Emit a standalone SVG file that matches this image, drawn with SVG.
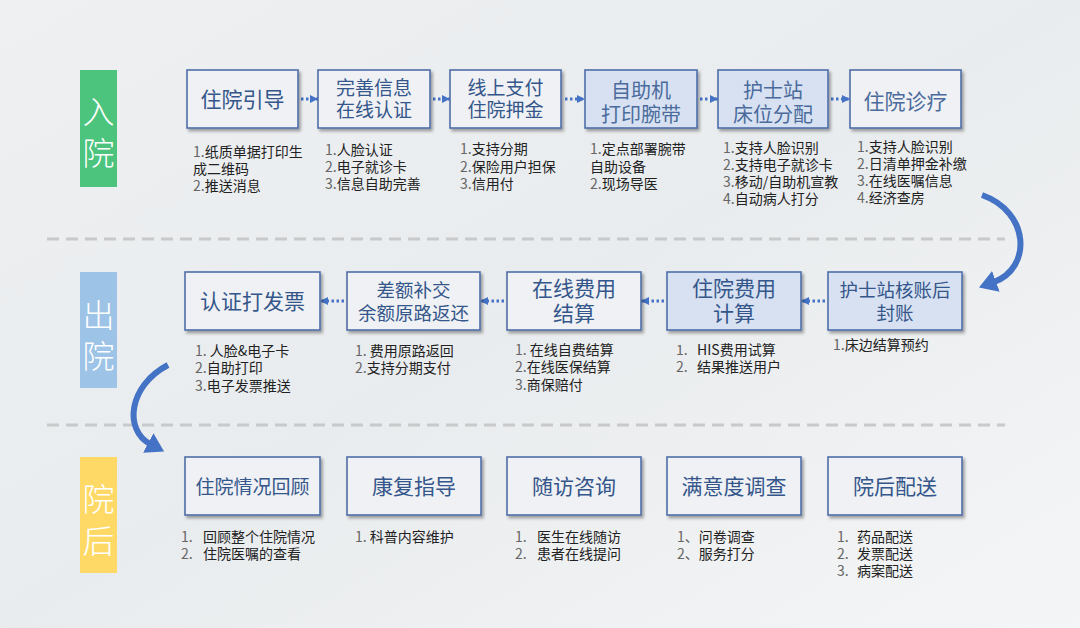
<svg xmlns="http://www.w3.org/2000/svg" width="1080" height="628" viewBox="0 0 1080 628">
<defs>
<linearGradient id="bg" x1="0" y1="0" x2="1" y2="1">
<stop offset="0" stop-color="#eef0f2"/>
<stop offset="0.5" stop-color="#e9ecee"/>
<stop offset="1" stop-color="#f4f5f6"/>
</linearGradient>
<filter id="sh" x="-10%" y="-10%" width="125%" height="130%">
<feDropShadow dx="2" dy="2.5" stdDeviation="1.8" flood-color="#000" flood-opacity="0.35"/>
</filter>
<marker id="dh" markerUnits="userSpaceOnUse" markerWidth="9" markerHeight="10" refX="8" refY="5" orient="auto">
<path d="M0,1 L8,5 L0,9 z" fill="#4472c4"/>
</marker>
<marker id="bh" markerUnits="userSpaceOnUse" markerWidth="20" markerHeight="22" refX="2" refY="11" orient="auto">
<path d="M0,0 L18,11 L0,22 z" fill="#4472c4"/>
</marker>
<style>
.box{fill:#eff1f4;stroke:#4f6fa9;stroke-width:1.6;filter:url(#sh)}
.boxb{fill:#d7e1f1;stroke:#4f6fa9;stroke-width:1.6;filter:url(#sh)}
.t{font-family:"Noto Sans CJK SC","Noto Sans",sans-serif;fill:#34568b;text-anchor:middle}
.tl{font-family:"Noto Sans CJK SC","Noto Sans",sans-serif;fill:#4a6b9c;text-anchor:middle}
.s{font-family:"Noto Sans CJK SC","Noto Sans",sans-serif;font-size:14px;fill:#222}
.n{fill:#666}
.lab{font-family:"Noto Sans CJK SC","Noto Sans",sans-serif;font-size:32px;font-weight:300;fill:#fff;text-anchor:middle}
.dot{stroke:#4472c4;stroke-width:3;stroke-dasharray:2.5 2.5;fill:none}
.big{stroke:#4472c4;stroke-width:6;fill:none}
.sep{stroke:#c8c9ca;stroke-width:3;stroke-dasharray:12 7}
</style>
</defs>
<rect width="1080" height="628" fill="url(#bg)"/>

<line class="sep" x1="47" y1="239" x2="1005" y2="239"/>
<line class="sep" x1="47" y1="425" x2="1005" y2="425"/>

<g id="phase-ruyuan">
<rect x="80" y="70" width="37" height="117" fill="#4cc47e"/>
<text class="lab"><tspan x="98.5" y="124">入</tspan><tspan x="98.5" y="165">院</tspan></text>
</g>
<g id="phase-chuyuan">
<rect x="80" y="272" width="37" height="116" fill="#9dc3e6"/>
<text class="lab"><tspan x="98.5" y="327">出</tspan><tspan x="98.5" y="368">院</tspan></text>
</g>
<g id="phase-yuanhou">
<rect x="80" y="457" width="37" height="116" fill="#ffd966"/>
<text class="lab"><tspan x="98.5" y="511">院</tspan><tspan x="98.5" y="553">后</tspan></text>
</g>

<g id="connectors">
<line class="dot" x1="301" y1="99" x2="318" y2="99" marker-end="url(#dh)"/>
<line class="dot" x1="433" y1="99" x2="450" y2="99" marker-end="url(#dh)"/>
<line class="dot" x1="565" y1="99" x2="585" y2="99" marker-end="url(#dh)"/>
<line class="dot" x1="700" y1="99" x2="718" y2="99" marker-end="url(#dh)"/>
<line class="dot" x1="831" y1="99" x2="850" y2="99" marker-end="url(#dh)"/>
<line class="dot" x1="825" y1="301" x2="801" y2="301" marker-end="url(#dh)"/>
<line class="dot" x1="664" y1="301" x2="641" y2="301" marker-end="url(#dh)"/>
<line class="dot" x1="504" y1="301" x2="480" y2="301" marker-end="url(#dh)"/>
<line class="dot" x1="344" y1="301" x2="320" y2="301" marker-end="url(#dh)"/>
<path class="big" d="M982 195 C1030 212 1032 268 994 282" marker-end="url(#bh)"/>
<path class="big" d="M168 365 C128 386 124 430 150 444" marker-end="url(#bh)"/>
</g>

<!-- Row 1 -->
<g id="n-zhuyuanyindao">
<rect class="box" x="187" y="70" width="111" height="58"/>
<text class="t" x="242.5" y="107" font-size="21">住院引导</text>
<text class="s"><tspan x="193" y="157"><tspan class="n">1.</tspan>纸质单据打印生</tspan><tspan x="193" y="174">成二维码</tspan><tspan x="193" y="191"><tspan class="n">2.</tspan>推送消息</tspan></text>
</g>
<g id="n-wanshanxinxi">
<rect class="box" x="318" y="70" width="112" height="58"/>
<text class="t" font-size="19"><tspan x="374" y="95">完善信息</tspan><tspan x="374" y="117">在线认证</tspan></text>
<text class="s"><tspan x="325" y="155"><tspan class="n">1.</tspan>人脸认证</tspan><tspan x="325" y="172"><tspan class="n">2.</tspan>电子就诊卡</tspan><tspan x="325" y="189"><tspan class="n">3.</tspan>信息自助完善</tspan></text>
</g>
<g id="n-xianshangzhifu">
<rect class="box" x="450" y="70" width="111" height="58"/>
<text class="t" font-size="19"><tspan x="505.5" y="95">线上支付</tspan><tspan x="505.5" y="117">住院押金</tspan></text>
<text class="s"><tspan x="460" y="154"><tspan class="n">1.</tspan>支持分期</tspan><tspan x="460" y="172"><tspan class="n">2.</tspan>保险用户担保</tspan><tspan x="460" y="189"><tspan class="n">3.</tspan>信用付</tspan></text>
</g>
<g id="n-zizhuji">
<rect class="boxb" x="585" y="70" width="112" height="58"/>
<text class="tl" font-size="20"><tspan x="641" y="98">自助机</tspan><tspan x="641" y="122">打印腕带</tspan></text>
<text class="s"><tspan x="590" y="154"><tspan class="n">1.</tspan>定点部署腕带</tspan><tspan x="590" y="172">自助设备</tspan><tspan x="590" y="189"><tspan class="n">2.</tspan>现场导医</tspan></text>
</g>
<g id="n-hushizhan">
<rect class="boxb" x="718" y="70" width="110" height="58"/>
<text class="tl" font-size="20"><tspan x="773" y="98">护士站</tspan><tspan x="773" y="122">床位分配</tspan></text>
<text class="s"><tspan x="723" y="153"><tspan class="n">1.</tspan>支持人脸识别</tspan><tspan x="723" y="170"><tspan class="n">2.</tspan>支持电子就诊卡</tspan><tspan x="723" y="187"><tspan class="n">3.</tspan>移动/自助机宣教</tspan><tspan x="723" y="204"><tspan class="n">4.</tspan>自动病人打分</tspan></text>
</g>
<g id="n-zhuyuanzhenliao">
<rect class="box" x="850" y="70" width="111" height="58"/>
<text class="tl" x="905.5" y="109" font-size="21">住院诊疗</text>
<text class="s"><tspan x="857" y="152"><tspan class="n">1.</tspan>支持人脸识别</tspan><tspan x="857" y="169"><tspan class="n">2.</tspan>日清单押金补缴</tspan><tspan x="857" y="186"><tspan class="n">3.</tspan>在线医嘱信息</tspan><tspan x="857" y="203"><tspan class="n">4.</tspan>经济查房</tspan></text>
</g>

<!-- Row 2 -->
<g id="n-hushizhanhezhang">
<rect class="boxb" x="828" y="272" width="134" height="58"/>
<text class="t" font-size="18.5"><tspan x="895" y="297">护士站核账后</tspan><tspan x="895" y="320">封账</tspan></text>
<text class="s" x="833" y="350"><tspan class="n">1.</tspan>床边结算预约</text>
</g>
<g id="n-zhuyuanfeiyong">
<rect class="boxb" x="667" y="272" width="134" height="58"/>
<text class="t" font-size="21"><tspan x="734" y="296">住院费用</tspan><tspan x="734" y="321">计算</tspan></text>
<text class="s"><tspan class="n" x="676" y="355">1.</tspan><tspan x="697" y="355">HIS费用试算</tspan><tspan class="n" x="676" y="372">2.</tspan><tspan x="697" y="372">结果推送用户</tspan></text>
</g>
<g id="n-zaixianfeiyong">
<rect class="box" x="507" y="272" width="134" height="58"/>
<text class="t" font-size="21"><tspan x="574" y="296">在线费用</tspan><tspan x="574" y="321">结算</tspan></text>
<text class="s"><tspan x="515" y="355"><tspan class="n">1.</tspan> 在线自费结算</tspan><tspan x="515" y="372"><tspan class="n">2.</tspan>在线医保结算</tspan><tspan x="515" y="390"><tspan class="n">3.</tspan>商保赔付</tspan></text>
</g>
<g id="n-chaebujiao">
<rect class="box" x="347" y="272" width="133" height="58"/>
<text class="t" font-size="18.5"><tspan x="413.5" y="297">差额补交</tspan><tspan x="413.5" y="320">余额原路返还</tspan></text>
<text class="s"><tspan x="355" y="356"><tspan class="n">1.</tspan> 费用原路返回</tspan><tspan x="355" y="373"><tspan class="n">2.</tspan>支持分期支付</tspan></text>
</g>
<g id="n-renzhengfapiao">
<rect class="box" x="185" y="272" width="135" height="58"/>
<text class="t" x="252.5" y="309" font-size="21">认证打发票</text>
<text class="s"><tspan x="195" y="356"><tspan class="n">1.</tspan> 人脸&amp;电子卡</tspan><tspan x="195" y="373"><tspan class="n">2.</tspan>自助打印</tspan><tspan x="195" y="391"><tspan class="n">3.</tspan>电子发票推送</tspan></text>
</g>

<!-- Row 3 -->
<g id="n-huigu">
<rect class="box" x="185" y="457" width="135" height="58"/>
<text class="t" x="252.5" y="494" font-size="19">住院情况回顾</text>
<text class="s"><tspan class="n" x="181" y="542">1.</tspan><tspan x="203" y="542">回顾整个住院情况</tspan><tspan class="n" x="181" y="559">2.</tspan><tspan x="203" y="559">住院医嘱的查看</tspan></text>
</g>
<g id="n-kangfu">
<rect class="box" x="347" y="457" width="134" height="58"/>
<text class="t" x="414" y="494" font-size="21">康复指导</text>
<text class="s" x="355" y="542"><tspan class="n">1.</tspan> 科普内容维护</text>
</g>
<g id="n-suifang">
<rect class="box" x="507" y="457" width="134" height="58"/>
<text class="t" x="574" y="494" font-size="21">随访咨询</text>
<text class="s"><tspan class="n" x="515" y="542">1.</tspan><tspan x="537" y="542">医生在线随访</tspan><tspan class="n" x="515" y="559">2.</tspan><tspan x="537" y="559">患者在线提问</tspan></text>
</g>
<g id="n-manyidu">
<rect class="box" x="667" y="457" width="134" height="58"/>
<text class="t" x="734" y="494" font-size="21">满意度调查</text>
<text class="s"><tspan x="677" y="542"><tspan class="n">1、</tspan>问卷调查</tspan><tspan x="677" y="559"><tspan class="n">2、</tspan>服务打分</tspan></text>
</g>
<g id="n-peisong">
<rect class="box" x="828" y="457" width="134" height="58"/>
<text class="t" x="895" y="494" font-size="21">院后配送</text>
<text class="s"><tspan class="n" x="837" y="542">1.</tspan><tspan x="857" y="542">药品配送</tspan><tspan class="n" x="837" y="559">2.</tspan><tspan x="857" y="559">发票配送</tspan><tspan class="n" x="837" y="576">3.</tspan><tspan x="857" y="576">病案配送</tspan></text>
</g>
</svg>
